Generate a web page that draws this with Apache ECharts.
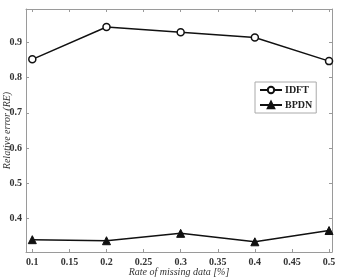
<!DOCTYPE html>
<html>
<head>
<meta charset="utf-8">
<script src="https://cdn.jsdelivr.net/npm/echarts@6/dist/echarts.min.js"></script>
<style>
  html, body { margin: 0; padding: 0; background: #fff; }
  #chart { width: 342px; height: 277px; }
</style>
</head>
<body>
<div id="chart"></div>
<script>
// missing-data rate vs relative error
var rates = [0.1, 0.2, 0.3, 0.4, 0.5];
var idft = [0.852, 0.944, 0.929, 0.914, 0.847];
var bpdn = [0.340, 0.337, 0.358, 0.334, 0.366];

(function () {
    var chart = echarts.init(document.getElementById('chart'));
    var font = 'Liberation Serif, DejaVu Serif, serif';
    var boxColor = '#9a9a9a';

    function pairs(xs, ys) {
        return xs.map(function (x, i) { return [x, ys[i]]; });
    }

    function fmt(v) {
        return String(Math.round(v * 100) / 100);
    }

    var xBase = {
        type: 'value',
        min: 0.0915,
        max: 0.504,
        minInterval: 0.05,
        maxInterval: 0.05,
        axisLine: { show: true, lineStyle: { color: boxColor, width: 1 } },
        axisTick: { show: true, inside: true, length: 3, lineStyle: { color: boxColor } },
        splitLine: { show: false }
    };
    var yBase = {
        type: 'value',
        min: 0.305,
        max: 0.995,
        minInterval: 0.1,
        maxInterval: 0.1,
        axisLine: { show: true, lineStyle: { color: boxColor, width: 1 } },
        axisTick: { show: true, inside: true, length: 3, lineStyle: { color: boxColor } },
        splitLine: { show: false }
    };

    var option = {
        animation: false,
        backgroundColor: '#fff',
        grid: { left: 26, top: 9, right: 10, bottom: 25, outerBoundsMode: 'none', containLabel: false },
        legend: {
            orient: 'vertical',
            left: 255,
            top: 82,
            padding: [3, 4, 3, 4],
            itemGap: 5,
            itemWidth: 22,
            itemHeight: 8,
            borderColor: '#aaa',
            borderWidth: 1,
            backgroundColor: '#fff',
            textStyle: { fontFamily: font, fontWeight: 'bold', fontSize: 10, color: '#222', padding: [0, 0, 0, -2] },
            data: ['IDFT', 'BPDN']
        },
        xAxis: [
            Object.assign({}, xBase, {
                position: 'bottom',
                name: 'Rate of missing data [%]',
                nameLocation: 'middle',
                nameGap: 15,
                nameMoveOverlap: false,
                nameTextStyle: { fontFamily: font, fontStyle: 'italic', fontSize: 10, color: '#333' },
                axisLabel: {
                    show: true, showMinLabel: false, showMaxLabel: false, margin: 5,
                    fontFamily: font, fontWeight: 'bold', fontSize: 10, color: '#333',
                    formatter: fmt
                }
            }),
            Object.assign({}, xBase, { position: 'top', axisLabel: { show: false } })
        ],
        yAxis: [
            Object.assign({}, yBase, {
                position: 'left',
                name: 'Relative error (RE)',
                nameLocation: 'middle',
                nameGap: 14,
                nameMoveOverlap: false,
                nameTextStyle: { fontFamily: font, fontStyle: 'italic', fontSize: 10, color: '#333' },
                axisLabel: {
                    show: true, showMinLabel: false, showMaxLabel: false, margin: 4,
                    fontFamily: font, fontWeight: 'bold', fontSize: 10, color: '#333',
                    formatter: fmt
                }
            }),
            Object.assign({}, yBase, { position: 'right', axisLabel: { show: false } })
        ],
        series: [
            {
                name: 'IDFT',
                type: 'line',
                data: pairs(rates, idft),
                symbol: 'circle',
                symbolSize: 7,
                lineStyle: { color: '#111', width: 1.5 },
                itemStyle: { color: '#fff', borderColor: '#111', borderWidth: 1.5 }
            },
            {
                name: 'BPDN',
                type: 'line',
                data: pairs(rates, bpdn),
                symbol: 'triangle',
                symbolSize: 8,
                lineStyle: { color: '#111', width: 1.5 },
                itemStyle: { color: '#111', borderColor: '#111', borderWidth: 1 }
            }
        ]
    };

    chart.setOption(option);
})();
</script>
</body>
</html>
